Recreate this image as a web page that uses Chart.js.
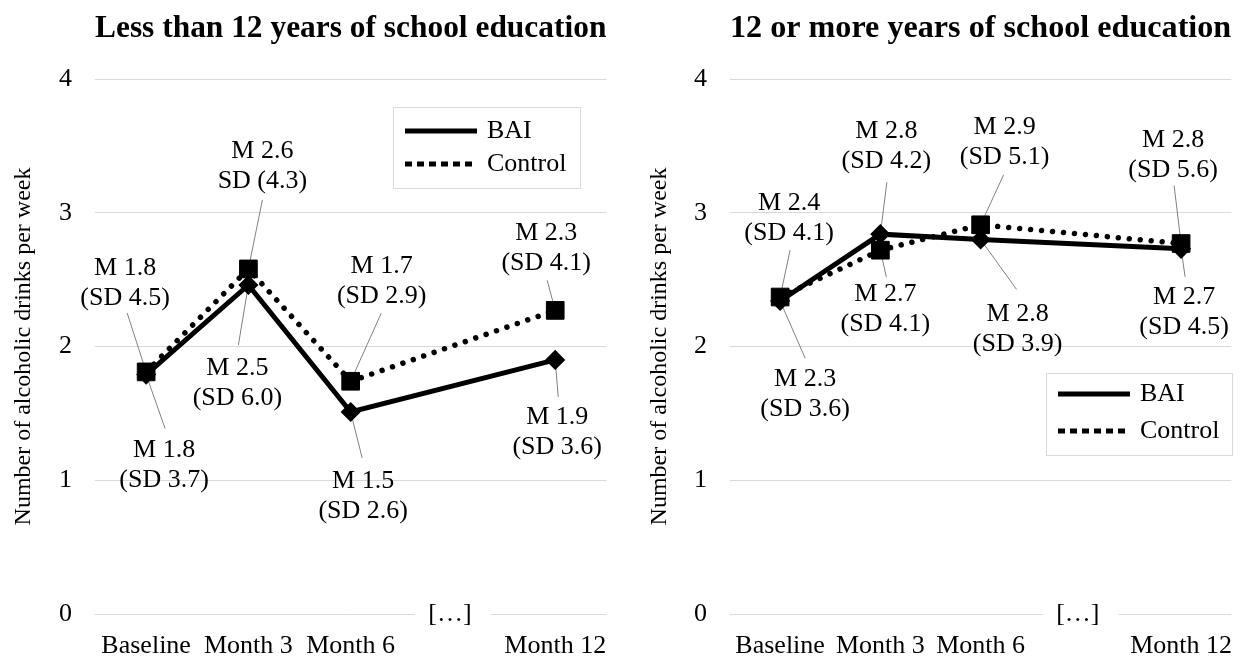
<!DOCTYPE html>
<html>
<head>
<meta charset="utf-8">
<script src="https://cdn.jsdelivr.net/npm/chart.js@4.4.1/dist/chart.umd.min.js"></script>
<style>
  html, body { margin: 0; padding: 0; background: #fff; }
  #wrap { position: relative; width: 1251px; height: 662px; overflow: hidden; background: #fff; }
  canvas { position: absolute; top: 0; }
  #lowEdu { left: 0; }
  #highEdu { left: 625px; }
</style>
</head>
<body>
<div id="wrap">
  <canvas id="lowEdu" width="625" height="662"></canvas>
  <canvas id="highEdu" width="626" height="662"></canvas>
</div>
<script>
// Time points (the fourth slot marks the skipped months on the axis)
const timepoints = ['Baseline', 'Month 3', 'Month 6', '[…]', 'Month 12'];
const gapIndex = 3;
const yTickValues = [0, 1, 2, 3, 4];
const seriesNames = ['BAI', 'Control'];
const panelTitles = ['Less than 12 years of school education', '12 or more years of school education'];
const yAxisTitle = 'Number of alcoholic drinks per week';

// Mean alcoholic drinks per week, with standard deviations
const lowEduBAIMean     = [1.79, 2.46, 1.51, null, 1.90];
const lowEduBAISD       = [3.7, 6.0, 2.6, null, 3.6];
const lowEduControlMean = [1.81, 2.58, 1.74, null, 2.27];
const lowEduControlSD   = [4.5, 4.3, 2.9, null, 4.1];

const highEduBAIMean     = [2.34, 2.84, 2.80, null, 2.73];
const highEduBAISD       = [3.6, 4.2, 3.9, null, 4.5];
const highEduControlMean = [2.37, 2.72, 2.91, null, 2.77];
const highEduControlSD   = [4.1, 4.1, 5.1, null, 5.6];

const SERIF = "'Liberation Serif', 'Times New Roman', serif";
Chart.defaults.font.family = SERIF;
Chart.defaults.color = '#000';

// Two-line "M x / (SD y)" call-outs with thin leader lines to each point
const pointNotes = {
  id: 'pointNotes',
  beforeDatasetsDraw(chart, args, opts) {
    const ctx = chart.ctx;
    ctx.save();
    ctx.strokeStyle = opts.leaderColor;
    ctx.lineWidth = 1;
    chart.data.datasets.forEach((ds, di) => {
      const meta = chart.getDatasetMeta(di);
      meta.data.forEach((pt, i) => {
        const p = opts.placement[di][i];
        if (!p || ds.data[i] == null) return;
        ctx.beginPath();
        ctx.moveTo(pt.x + p.lx, pt.y + p.ly);
        ctx.lineTo(pt.x, pt.y);
        ctx.stroke();
      });
    });
    ctx.restore();
  },
  afterDatasetsDraw(chart, args, opts) {
    const ctx = chart.ctx;
    ctx.save();
    ctx.font = opts.fontSize + 'px ' + SERIF;
    ctx.fillStyle = '#000';
    ctx.textAlign = 'center';
    ctx.textBaseline = 'middle';
    chart.data.datasets.forEach((ds, di) => {
      const meta = chart.getDatasetMeta(di);
      meta.data.forEach((pt, i) => {
        const p = opts.placement[di][i];
        const v = ds.data[i];
        if (!p || v == null) return;
        const sd = ds.sd[i].toFixed(1);
        const lines = ['M ' + v.toFixed(1), p.sdOutside ? 'SD (' + sd + ')' : '(SD ' + sd + ')'];
        const cx = pt.x + p.dx, cy = pt.y + p.dy;
        ctx.fillText(lines[0], cx, cy - opts.lineGap / 2);
        ctx.fillText(lines[1], cx, cy + opts.lineGap / 2);
      });
    });
    ctx.restore();
  }
};

// Bracketed ellipsis sitting on the zero line where months are skipped
const axisBreak = {
  id: 'axisBreak',
  beforeDatasetsDraw(chart, args, opts) {
    const ctx = chart.ctx;
    const x = chart.scales.x.getPixelForValue(gapIndex);
    const y = chart.scales.y.getPixelForValue(0);
    ctx.save();
    ctx.fillStyle = '#fff';
    ctx.fillRect(x - opts.halfGap, y - 4, opts.halfGap * 2, 8);
    ctx.fillStyle = '#000';
    ctx.font = opts.fontSize + 'px ' + SERIF;
    ctx.textAlign = 'center';
    ctx.textBaseline = 'middle';
    ctx.fillText(timepoints[gapIndex], x + opts.dx, y);
    ctx.restore();
  }
};

// Boxed legend with line samples
const boxedLegend = {
  id: 'boxedLegend',
  afterDatasetsDraw(chart, args, opts) {
    const ctx = chart.ctx;
    const b = opts.box;
    ctx.save();
    ctx.fillStyle = '#fff';
    ctx.fillRect(b.x, b.y, b.w, b.h);
    ctx.strokeStyle = opts.borderColor;
    ctx.lineWidth = 1;
    ctx.strokeRect(b.x + 0.5, b.y + 0.5, b.w, b.h);
    ctx.font = opts.fontSize + 'px ' + SERIF;
    ctx.textAlign = 'left';
    ctx.textBaseline = 'middle';
    chart.data.datasets.forEach((ds, di) => {
      const y = b.y + opts.rows[di];
      ctx.beginPath();
      ctx.strokeStyle = ds.borderColor;
      ctx.lineWidth = opts.sampleWidth;
      ctx.lineCap = 'butt';
      ctx.setLineDash(opts.dashes[di]);
      ctx.moveTo(b.x + opts.sampleStart, y);
      ctx.lineTo(b.x + opts.sampleEnd, y);
      ctx.stroke();
      ctx.setLineDash([]);
      ctx.fillStyle = '#000';
      ctx.fillText(ds.label, b.x + opts.textStart, y);
    });
    ctx.restore();
  }
};

function makePanel(canvasId, title, baiMean, baiSD, ctlMean, ctlSD, look) {
  return new Chart(document.getElementById(canvasId), {
    type: 'line',
    data: {
      labels: timepoints,
      datasets: [
        {
          label: seriesNames[0],
          data: baiMean,
          sd: baiSD,
          borderColor: '#000',
          backgroundColor: '#000',
          borderWidth: 5,
          pointStyle: 'rectRot',
          pointRadius: 9,
          pointBorderWidth: 1.5,
          pointBackgroundColor: '#000',
          pointBorderColor: '#000',
          spanGaps: true,
          tension: 0
        },
        {
          label: seriesNames[1],
          data: ctlMean,
          sd: ctlSD,
          borderColor: '#000',
          backgroundColor: '#000',
          borderWidth: 5.5,
          borderDash: [0.01, 11],
          borderCapStyle: 'round',
          pointStyle: 'rect',
          pointRadius: 12.5,
          pointBorderWidth: 1,
          pointBackgroundColor: '#000',
          pointBorderColor: '#000',
          spanGaps: true,
          tension: 0
        }
      ]
    },
    options: {
      responsive: false,
      animation: false,
      events: [],
      layout: { padding: { left: 0, right: 13, top: 0, bottom: 0 } },
      scales: {
        x: {
          type: 'category',
          offset: true,
          grid: { display: false, drawTicks: false },
          border: { display: false },
          ticks: {
            autoSkip: false,
            maxRotation: 0,
            padding: 17,
            font: { size: 26 },
            color: '#000',
            callback: (v, i) => (i === gapIndex ? '' : timepoints[i])
          },
          afterFit: s => { s.height = 48; }
        },
        y: {
          min: yTickValues[0],
          max: yTickValues[yTickValues.length - 1],
          afterBuildTicks: s => { s.ticks = yTickValues.map(v => ({ value: v })); },
          grid: { color: '#d9d9d9', lineWidth: 1, drawTicks: false },
          border: { display: false },
          ticks: { padding: 23, font: { size: 26 }, color: '#000' },
          title: {
            display: true,
            text: yAxisTitle,
            font: { size: 24 },
            color: '#000',
            padding: { top: look.axisTitlePad, bottom: 0 }
          },
          afterFit: s => { s.width = look.axisWidth; }
        }
      },
      plugins: {
        legend: { display: false },
        tooltip: { enabled: false },
        title: {
          display: true,
          text: title,
          fullSize: false,
          color: '#000',
          font: { size: 32.5, weight: 'bold', lineHeight: 1.2 },
          padding: { top: 9, bottom: 31 }
        },
        pointNotes: { placement: look.notes, fontSize: 26, lineGap: 30, leaderColor: '#808080' },
        axisBreak: { halfGap: 38, fontSize: 26, dx: -3 },
        boxedLegend: {
          box: look.legendBox,
          borderColor: '#d9d9d9',
          fontSize: 26,
          rows: look.legendRows,
          sampleStart: 12,
          sampleEnd: 84,
          textStart: 94,
          sampleWidth: 5,
          dashes: [[], [7, 5]]
        }
      }
    },
    plugins: [pointNotes, axisBreak, boxedLegend]
  });
}

// Call-out placement: label centre offset (dx, dy) and leader start (lx, ly) from each point
makePanel('lowEdu', panelTitles[0], lowEduBAIMean, lowEduBAISD, lowEduControlMean, lowEduControlSD, {
  axisWidth: 95,
  axisTitlePad: 9.6,
  legendBox: { x: 393, y: 107, w: 187, h: 81 },
  legendRows: [24, 57],
  notes: [
    [ {dx: 18, dy: 91, lx: 19, ly: 54}, {dx: -11, dy: 98, lx: -10, ly: 60}, {dx: 12.5, dy: 84, lx: 11.5, ly: 46}, null, {dx: 2, dy: 72, lx: 3, ly: 37} ],
    [ {dx: -21, dy: -89, lx: -19, ly: -59}, {dx: 14, dy: -102.5, lx: 14, ly: -69, sdOutside: true}, {dx: 31, dy: -100, lx: 30.5, ly: -68}, null, {dx: -9, dy: -62, lx: -8, ly: -30} ]
  ]
});

makePanel('highEdu', panelTitles[1], highEduBAIMean, highEduBAISD, highEduControlMean, highEduControlSD, {
  axisWidth: 105,
  axisTitlePad: 20.6,
  legendBox: { x: 421, y: 373, w: 186, h: 82 },
  legendRows: [21, 58],
  notes: [
    [ {dx: 25, dy: 93, lx: 25, ly: 57}, {dx: 6, dy: -88, lx: 6.5, ly: -52}, {dx: 37, dy: 89.5, lx: 36, ly: 50}, null, {dx: 3, dy: 63.5, lx: 4, ly: 28} ],
    [ {dx: 9, dy: -79, lx: 10, ly: -47}, {dx: 5, dy: 59, lx: 6, ly: 27}, {dx: 24, dy: -83, lx: 23, ly: -50}, null, {dx: -8, dy: -88.5, lx: -7, ly: -58} ]
  ]
});
</script>
</body>
</html>
